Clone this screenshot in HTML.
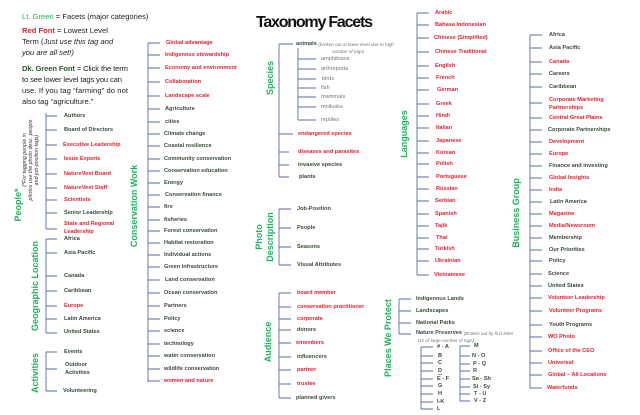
<!DOCTYPE html>
<html><head><meta charset="utf-8"><style>
html,body{margin:0;padding:0;background:#fff;}
svg{display:block;}
text{font-family:"Liberation Sans",sans-serif;}
.i{font-size:5.6px;font-weight:bold;fill:#3a4a3a;dominant-baseline:central;}
.r{font-size:5.6px;font-weight:bold;fill:#e8202f;dominant-baseline:central;}
.g{font-size:5.6px;fill:#777;dominant-baseline:central;}
.f{font-size:9px;font-weight:bold;fill:#1db35a;text-anchor:middle;}
.l{stroke:#5a6ea8;stroke-width:0.9;fill:none;}
.t{font-size:7.6px;fill:#222;}
.n{font-size:4.6px;font-style:italic;fill:#777;}
</style></head><body>
<svg width="640" height="415" viewBox="0 0 640 415" xmlns="http://www.w3.org/2000/svg">
<text x="256" y="27" font-size="16" font-weight="bold" fill="#111" textLength="117">Taxonomy Facets</text>

<!-- legend -->
<text class="t" x="22" y="19"><tspan fill="#1db35a">Lt. Green</tspan> = Facets (major categories)</text>
<text class="t" x="22" y="33"><tspan fill="#e8202f" font-weight="bold">Red Font</tspan> = Lowest Level</text>
<text class="t" x="22" y="44">Term (<tspan font-style="italic">Just use this tag and</tspan></text>
<text class="t" x="22" y="55" font-style="italic">you are all set!)</text>
<text class="t" x="22" y="71" textLength="106"><tspan fill="#2a5a2a" font-weight="bold">Dk. Green Font</tspan> = Click the term</text>
<text class="t" x="22" y="82" textLength="100">to see lower level tags you can</text>
<text class="t" x="22" y="93" textLength="106">use. If you tag “farming” do not</text>
<text class="t" x="22" y="104">also tag “agriculture.”</text>

<!-- People -->
<path class="l" d="M46 113V229M46 116h11M46 130h11M46 145h11M46 159h11M46 174h11M46 188h11M46 200h11M46 213h11M46 229h11"/>
<text class="i" x="64" y="116">Authors</text>
<text class="i" x="64" y="130">Board of Directors</text>
<text class="r" x="63" y="145">Executive Leadership</text>
<text class="r" x="64" y="159">Issue Experts</text>
<text class="r" x="64" y="174">NatureVest Board</text>
<text class="r" x="64" y="188">NatureVest Staff</text>
<text class="r" x="64" y="200">Scientists</text>
<text class="i" x="64" y="213">Senior Leadership</text>
<text class="r" x="64" y="224">State and Regional</text>
<text class="r" x="64" y="232">Leadership</text>
<text class="f" transform="translate(21,205) rotate(-90)">People*</text>
<g transform="rotate(-90)" font-size="5.3" font-style="italic" fill="#333">
<text x="-160" y="26" text-anchor="middle">(*For tagging people in</text>
<text x="-160" y="32" text-anchor="middle">photos use the photo desc. people</text>
<text x="-160" y="38" text-anchor="middle">and job-position tags)</text>
</g>

<!-- Geographic -->
<path class="l" d="M46 239V333M46 239h11M46 253h11M46 276h11M46 291h11M46 306h11M46 319h11M46 333h11"/>
<text class="i" x="64" y="239">Africa</text>
<text class="i" x="64" y="253">Asia Pacific</text>
<text class="i" x="64" y="276">Canada</text>
<text class="i" x="64" y="291">Caribbean</text>
<text class="r" x="64" y="306">Europe</text>
<text class="i" x="64" y="319">Latin America</text>
<text class="i" x="64" y="332">United States</text>
<text class="f" transform="translate(38,286) rotate(-90)">Geographic Location</text>

<!-- Activities -->
<path class="l" d="M46 352V391M46 352h11M46 369h11M46 391h11"/>
<text class="i" x="64" y="352">Events</text>
<text class="i" x="65" y="365">Outdoor</text>
<text class="i" x="65" y="373">Activities</text>
<text class="i" x="63" y="391">Volunteering</text>
<text class="f" transform="translate(38,373) rotate(-90)">Activities</text>

<!-- Conservation Work -->
<path class="l" d="M148 43V382M148 43h12M148 55h12M148 68h12M148 82h12M148 96h12M148 109h12M148 122h12M148 134h12M148 146h12M148 159h12M148 171h12M148 183h12M148 195h12M148 207h12M148 220h12M148 231h12M148 243h12M148 255h12M148 267h12M148 280h12M148 293h12M148 306h12M148 319h12M148 331h12M148 344h12M148 356h12M148 369h12M148 381h12"/>
<text class="r" x="166" y="43">Global advantage</text>
<text class="r" x="165" y="55">Indigenous stewardship</text>
<text class="r" x="165" y="68">Economy and environment</text>
<text class="r" x="165" y="82">Collaboration</text>
<text class="r" x="165" y="96">Landscape scale</text>
<text class="i" x="165" y="109">Agriculture</text>
<text class="i" x="165" y="122">cities</text>
<text class="i" x="164" y="134">Climate change</text>
<text class="i" x="164" y="146">Coastal resilience</text>
<text class="i" x="164" y="159">Community conservation</text>
<text class="i" x="164" y="171">Conservation education</text>
<text class="i" x="164" y="183">Energy</text>
<text class="i" x="165" y="195">Conservation finance</text>
<text class="i" x="164" y="207">fire</text>
<text class="i" x="164" y="220">fisheries</text>
<text class="i" x="164" y="231">Forest conservation</text>
<text class="i" x="164" y="243">Habitat restoration</text>
<text class="i" x="164" y="255">Individual actions</text>
<text class="i" x="164" y="267">Green infrastructure</text>
<text class="i" x="165" y="280">Land conservation</text>
<text class="i" x="164" y="293">Ocean conservation</text>
<text class="i" x="164" y="306">Partners</text>
<text class="i" x="164" y="319">Policy</text>
<text class="i" x="164" y="331">science</text>
<text class="i" x="164" y="344">technology</text>
<text class="i" x="164" y="356">water conservation</text>
<text class="i" x="164" y="369">wildlife conservation</text>
<text class="r" x="164" y="381">women and nature</text>
<text class="f" transform="translate(137,206) rotate(-90)">Conservation Work</text>

<!-- Species -->
<path class="l" d="M279 44V177M279 44h14M279 134h14M279 152h10M279 165h10M279 177h10"/>
<path class="l" d="M298 48V120M298 59h18M298 69h18M298 79h18M298 88h18M298 97h18M298 107h18M298 120h18"/>
<text class="i" x="296" y="44" fill="#222">animals <tspan class="n" font-weight="normal">(broken out at lower level due to high</tspan></text>
<text class="n" x="332" y="53">number of tags)</text>
<text class="g" x="321" y="59">amphibians</text>
<text class="g" x="321" y="69">arthropoda</text>
<text class="g" x="322" y="79">birds</text>
<text class="g" x="321" y="88">fish</text>
<text class="g" x="321" y="97">mammals</text>
<text class="g" x="321" y="107">mollusks</text>
<text class="g" x="321" y="120">reptiles</text>
<text class="r" x="298" y="134">endangered species</text>
<text class="r" x="298" y="152">diseases and parasites</text>
<text class="i" x="298" y="165">invasive species</text>
<text class="i" x="299" y="177">plants</text>
<text class="f" transform="translate(273,78) rotate(-90)">Species</text>

<!-- Photo Description -->
<path class="l" d="M279 209V265M279 209h12M279 228h12M279 247h12M279 265h12"/>
<text class="i" x="297" y="209">Job-Position</text>
<text class="i" x="297" y="228">People</text>
<text class="i" x="297" y="247">Seasons</text>
<text class="i" x="297" y="265">Visual Attributes</text>
<text class="f" transform="translate(262,237) rotate(-90)">Photo</text>
<text class="f" transform="translate(273,237) rotate(-90)">Description</text>

<!-- Audience -->
<path class="l" d="M279 293V398M279 293h12M279 307h12M279 319h12M279 330h12M279 343h12M279 357h12M279 370h12M279 384h12M279 398h12"/>
<text class="r" x="297" y="293">board member</text>
<text class="r" x="297" y="307">conservation practitioner</text>
<text class="r" x="297" y="319">corporate</text>
<text class="i" x="297" y="330">donors</text>
<text class="r" x="296" y="343">emembers</text>
<text class="i" x="297" y="357">influencers</text>
<text class="r" x="297" y="370">partner</text>
<text class="r" x="297" y="384">trustee</text>
<text class="i" x="296" y="398">planned givers</text>
<text class="f" transform="translate(271,342) rotate(-90)">Audience</text>

<!-- Languages -->
<path class="l" d="M417 13V275M417 13h12M417 25h12M417 38h12M417 52h12M417 66h12M417 78h12M417 90h12M417 104h12M417 116h12M417 128h12M417 141h12M417 153h12M417 164h12M417 177h12M417 189h12M417 201h12M417 214h12M417 226h12M417 238h12M417 249h12M417 261h12M417 275h12"/>
<text class="r" x="435" y="13">Arabic</text>
<text class="r" x="435" y="25">Bahasa Indonesian</text>
<text class="r" x="434" y="38">Chinese (Simplified)</text>
<text class="r" x="435" y="52">Chinese Traditional</text>
<text class="r" x="435" y="66">English</text>
<text class="r" x="436" y="78">French</text>
<text class="r" x="437" y="90">German</text>
<text class="r" x="436" y="104">Greek</text>
<text class="r" x="436" y="116">Hindi</text>
<text class="r" x="436" y="128">Italian</text>
<text class="r" x="436" y="141">Japanese</text>
<text class="r" x="436" y="153">Korean</text>
<text class="r" x="436" y="164">Polish</text>
<text class="r" x="436" y="177">Portuguese</text>
<text class="r" x="436" y="189">Russian</text>
<text class="r" x="435" y="201">Serbian</text>
<text class="r" x="435" y="214">Spanish</text>
<text class="r" x="435" y="226">Tajik</text>
<text class="r" x="436" y="238">Thai</text>
<text class="r" x="435" y="249">Turkish</text>
<text class="r" x="435" y="261">Ukrainian</text>
<text class="r" x="434" y="275">Vietnamese</text>
<text class="f" transform="translate(407,134) rotate(-90)">Languages</text>

<!-- Places We Protect -->
<path class="l" d="M399 299V334M399 299h12M399 311h12M399 323h12M399 334h12"/>
<text class="i" x="416" y="299">Indigenous Lands</text>
<text class="i" x="416" y="311">Landscapes</text>
<text class="i" x="416" y="323">National Parks</text>
<text class="i" x="416" y="333">Nature Preserves <tspan class="n" font-weight="normal">(Broken out by first letter</tspan></text>
<text class="n" x="418" y="342">b/c of large number of tags)</text>
<path class="l" d="M421 347V409M421 347h12M421 356h12M421 363h12M421 371h12M421 379h12M421 386h12M421 394h12M421 402h12M421 409h12"/>
<path class="l" d="M460 346V401M460 346h10M460 356h10M460 364h10M460 371h10M460 379h10M460 387h10M460 394h10M460 401h10"/>
<text class="i" x="437" y="347"># - A</text>
<text class="i" x="438" y="356">B</text>
<text class="i" x="438" y="363">C</text>
<text class="i" x="438" y="371" fill="#2244aa" text-decoration="underline">D</text>
<text class="i" x="437" y="379">E - F</text>
<text class="i" x="438" y="386">G</text>
<text class="i" x="438" y="394">H</text>
<text class="i" x="437" y="402">I-K</text>
<text class="i" x="437" y="409">L</text>
<text class="i" x="474" y="346">M</text>
<text class="i" x="472" y="356">N - O</text>
<text class="i" x="473" y="364">P - Q</text>
<text class="i" x="473" y="371">R</text>
<text class="i" x="472" y="379">Sa - Sh</text>
<text class="i" x="473" y="387">Si - Sy</text>
<text class="i" x="474" y="394">T - U</text>
<text class="i" x="474" y="401">V - Z</text>
<text class="f" transform="translate(391,338) rotate(-90)">Places We Protect</text>

<!-- Business Group -->
<path class="l" d="M530 35V388M530 35h12M530 48h12M530 62h12M530 74h12M530 87h12M530 103h12M530 118h12M530 130h12M530 142h12M530 154h12M530 166h12M530 178h12M530 190h12M530 202h12M530 214h12M530 226h12M530 238h12M530 250h12M530 261h12M530 274h12M530 286h12M530 298h12M530 311h12M530 325h12M530 337h12M530 351h12M530 363h12M530 375h12M530 388h12"/>
<text class="i" x="549" y="35">Africa</text>
<text class="i" x="549" y="48">Asia Pacific</text>
<text class="r" x="549" y="62">Canada</text>
<text class="i" x="549" y="74">Careers</text>
<text class="i" x="549" y="87">Caribbean</text>
<text class="r" x="549" y="100">Corporate Marketing</text>
<text class="r" x="549" y="108">Partnerships</text>
<text class="r" x="549" y="118">Central Great Plains</text>
<text class="i" x="548" y="130">Corporate Partnerships</text>
<text class="r" x="549" y="142">Development</text>
<text class="r" x="549" y="154">Europe</text>
<text class="i" x="549" y="166">Finance and  investing</text>
<text class="r" x="549" y="178">Global Insights</text>
<text class="r" x="549" y="190">India</text>
<text class="i" x="550" y="202">Latin America</text>
<text class="r" x="549" y="214">Magazine</text>
<text class="r" x="549" y="226">Media/Newsroom</text>
<text class="i" x="549" y="238">Membership</text>
<text class="i" x="549" y="250">Our Priorities</text>
<text class="i" x="549" y="261">Policy</text>
<text class="i" x="548" y="274">Science</text>
<text class="i" x="548" y="286">United States</text>
<text class="r" x="548" y="298">Volunteer Leadership</text>
<text class="r" x="549" y="311">Volunteer Programs</text>
<text class="i" x="549" y="325">Youth Programs</text>
<text class="r" x="548" y="337">WO Photo</text>
<text class="r" x="548" y="351">Office of the CEO</text>
<text class="r" x="548" y="363">Universal</text>
<text class="r" x="548" y="375">Global – All Locations</text>
<text class="r" x="547" y="388">Waterfunds</text>
<text class="f" transform="translate(519,213) rotate(-90)">Business Group</text>
</svg>
</body></html>
